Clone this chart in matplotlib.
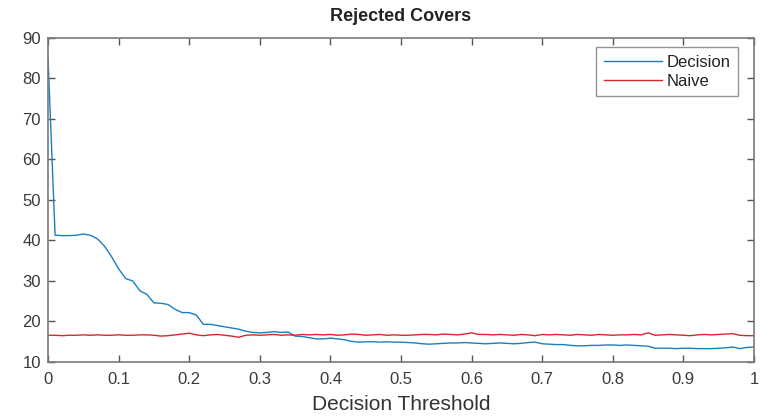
import numpy as np
import matplotlib
matplotlib.use("Agg")
import matplotlib.pyplot as plt

plt.rcParams['font.family'] = ['Liberation Sans', 'DejaVu Sans']

# decision threshold sweep, step 0.01
threshold = np.linspace(0, 1, 101)

decision = [85.0, 41.3, 41.2, 41.2, 41.3, 41.6, 41.3, 40.4, 38.6, 36.0,
            33.0, 30.6, 30.0, 27.6, 26.7, 24.6, 24.5, 24.2, 23.0, 22.2,
            22.2, 21.6, 19.3, 19.3, 19.0, 18.7, 18.4, 18.1, 17.6, 17.3,
            17.2, 17.3, 17.5, 17.3, 17.4, 16.4, 16.3, 16.0, 15.7, 15.7,
            15.9, 15.7, 15.5, 15.1, 14.9, 15.0, 15.0, 14.9, 15.0, 14.9,
            14.9, 14.8, 14.7, 14.5, 14.4, 14.5, 14.6, 14.7, 14.7, 14.8,
            14.7, 14.6, 14.5, 14.6, 14.7, 14.6, 14.5, 14.6, 14.8, 14.9,
            14.5, 14.4, 14.3, 14.3, 14.1, 14.0, 14.0, 14.1, 14.1, 14.2,
            14.2, 14.1, 14.2, 14.1, 14.0, 13.9, 13.4, 13.4, 13.4, 13.3,
            13.4, 13.4, 13.3, 13.3, 13.3, 13.4, 13.5, 13.7, 13.3, 13.6,
            13.7]

naive = [16.6, 16.6, 16.5, 16.6, 16.6, 16.7, 16.6, 16.7, 16.6, 16.6,
         16.7, 16.6, 16.6, 16.7, 16.7, 16.6, 16.4, 16.5, 16.7, 16.9,
         17.1, 16.7, 16.5, 16.7, 16.8, 16.6, 16.4, 16.1, 16.6, 16.7,
         16.6, 16.7, 16.8, 16.6, 16.7, 16.6, 16.8, 16.7, 16.8, 16.7,
         16.8, 16.6, 16.7, 16.9, 16.8, 16.6, 16.7, 16.8, 16.6, 16.7,
         16.6, 16.6, 16.7, 16.8, 16.8, 16.7, 16.9, 16.8, 16.7, 16.9,
         17.2, 16.8, 16.8, 16.7, 16.8, 16.7, 16.6, 16.8, 16.7, 16.5,
         16.8, 16.7, 16.8, 16.7, 16.6, 16.8, 16.7, 16.6, 16.8, 16.7,
         16.6, 16.7, 16.7, 16.8, 16.7, 17.2, 16.6, 16.7, 16.8, 16.7,
         16.6, 16.5, 16.7, 16.8, 16.7, 16.8, 16.9, 17.0, 16.6, 16.5,
         16.5]

fig = plt.figure(figsize=(7.66, 4.17), dpi=100)
ax = fig.add_axes([0.0627, 0.1319, 0.9216, 0.777])

ax.plot(threshold, decision, color='#1a7fbf', lw=1.0, label='Decision')
ax.plot(threshold, naive, color='#D9262C', lw=1.0, label='Naive')

ax.set_xlim(0, 1)
ax.set_ylim(10, 90)
ax.set_xticks(np.arange(0, 1.01, 0.1))
ax.set_xticklabels(['0', '0.1', '0.2', '0.3', '0.4', '0.5', '0.6', '0.7', '0.8', '0.9', '1'])
ax.set_yticks(np.arange(10, 91, 10))

axis_gray = '#7a7a7a'
for s in ax.spines.values():
    s.set_color(axis_gray)
    s.set_linewidth(1.2)
ax.tick_params(direction='in', top=True, right=True, length=5, width=1,
               color='#555555', labelcolor='#3a3a3a', labelsize=12)
ax.tick_params(axis='x', pad=7)
ax.tick_params(axis='y', pad=5)

ax.set_title('Rejected Covers', fontsize=13, fontweight='bold', color='#222222', pad=12)
ax.set_xlabel('Decision Threshold', fontsize=15, color='#333333', labelpad=6)

leg = ax.legend(loc='upper right', bbox_to_anchor=(0.977, 0.972), fontsize=12,
                frameon=True, fancybox=False, handlelength=3.5, handletextpad=0.25,
                labelspacing=0.25, borderpad=0.45, borderaxespad=0)
leg.get_frame().set_edgecolor(axis_gray)
leg.get_frame().set_linewidth(1.0)
for t in leg.get_texts():
    t.set_color('#222222')

fig.savefig('out.png', dpi=100)
